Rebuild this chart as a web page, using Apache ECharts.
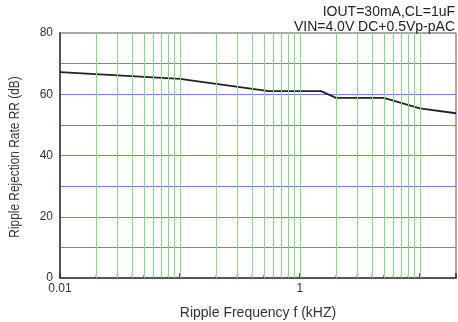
<!DOCTYPE html>
<html>
<head>
<meta charset="utf-8">
<script src="https://cdn.jsdelivr.net/npm/echarts@6/dist/echarts.min.js"></script>
<style>html,body{margin:0;padding:0;background:#fff;}#c{width:458px;height:322px;}</style>
</head>
<body>
<div id="c"></div>
<script>
// Data
var freqKHz = [0.01, 0.1, 0.55, 1.5, 2, 5, 10, 20];
var rrDb    = [67.2, 65, 61, 61, 58.8, 58.8, 55.4, 53.8];

// Axis ticks / grid
var xTickLabels = ['0.01', '1'];
var yTickLabels = [0, 20, 40, 60, 80];
var greenGridFreqs = [0.02,0.03,0.04,0.05,0.06,0.07,0.08,0.09,0.1,
                      0.2,0.3,0.4,0.5,0.6,0.7,0.8,0.9,1,
                      2,3,4,5,6,7,8,9,10];
var annotationLines = ['IOUT=30mA,CL=1uF', 'VIN=4.0V DC+0.5Vp-pAC'];
var xName = 'Ripple Frequency f (kHZ)';
var yName = 'Ripple Rejection Rate RR (dB)';

var FONT = '"Liberation Sans", Arial, sans-serif';
var GREEN = '#7fe07f';
var chart = echarts.init(document.getElementById('c'));
chart.setOption({
  animation: false,
  backgroundColor: '#fff',
  grid: {left: 60, right: 2, top: 33, bottom: 44, outerBoundsMode: 'none', containLabel: false,
         show: true, borderColor: '#555', borderWidth: 1, backgroundColor: 'transparent'},
  xAxis: {
    type: 'log', logBase: 10, min: 0.01, max: 20,
    name: xName, nameLocation: 'middle', nameGap: 28,
    nameTextStyle: {fontFamily: FONT, fontSize: 14, color: '#333'},
    axisLine: {show: true, lineStyle: {color: '#555', width: 2}},
    axisTick: {show: true, inside: true, length: 5, lineStyle: {color: '#333', width: 1.5}},
    splitLine: {show: false},
    axisLabel: {
      fontFamily: FONT, fontSize: 12, color: '#333', margin: 5,
      formatter: function (v) {
        for (var i = 0; i < xTickLabels.length; i++) {
          var t = parseFloat(xTickLabels[i]);
          if (Math.abs(v - t) < t * 1e-6) return xTickLabels[i];
        }
        return '';
      }
    }
  },
  yAxis: {
    type: 'value', min: 0, max: 80, interval: 10,
    axisLine: {show: true, lineStyle: {color: '#555', width: 2}},
    axisTick: {show: false},
    splitLine: {show: true, showMinLine: false, showMaxLine: false, lineStyle: {color: '#7878e6', width: 1}},
    axisLabel: {
      fontFamily: FONT, fontSize: 12, color: '#333', margin: 7,
      formatter: function (v) { return yTickLabels.indexOf(v) >= 0 ? String(v) : ''; }
    }
  },
  graphic: [
    {type: 'text', x: 455, y: 12.5, style: {text: annotationLines[0], fill: '#222', font: '14px ' + FONT, textAlign: 'right', textVerticalAlign: 'middle'}},
    {type: 'text', x: 455, y: 27.5, style: {text: annotationLines[1], fill: '#222', font: '14px ' + FONT, textAlign: 'right', textVerticalAlign: 'middle'}},
    {type: 'text', x: 15, y: 157, rotation: Math.PI / 2, scaleX: 0.85, style: {text: yName, fill: '#333', font: '14px ' + FONT, textAlign: 'center', textVerticalAlign: 'middle'}}
  ],
  series: [
    {
      type: 'line', data: [], silent: true, z: 1,
      color: GREEN, itemStyle: {color: GREEN}, lineStyle: {color: GREEN},
      markLine: {
        silent: true, symbol: ['none', 'none'], animation: false,
        label: {show: false},
        emphasis: {disabled: true},
        lineStyle: {color: GREEN, width: 1, type: 'solid'},
        data: greenGridFreqs.map(function (f) {
          return {xAxis: f, lineStyle: {color: GREEN, width: 1, type: 'solid'}};
        })
      }
    },
    {
      type: 'scatter', silent: true, z: 3,
      symbol: 'rect', symbolSize: [1, 3], symbolOffset: [0, -1.5],
      itemStyle: {color: '#333'},
      data: greenGridFreqs.map(function (f) { return [f, 0]; })
    },
    {
      type: 'line', silent: true, z: 4, showSymbol: false,
      lineStyle: {color: '#222', width: 1.8},
      data: freqKHz.map(function (f, i) { return [f, rrDb[i]]; })
    }
  ]
});
</script>
</body>
</html>
